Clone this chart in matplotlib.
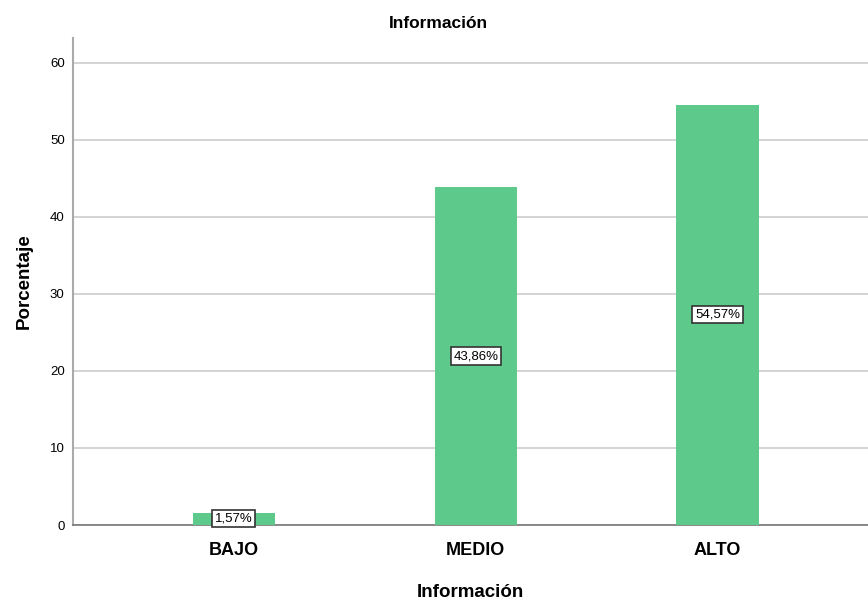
import numpy as np
import matplotlib.pyplot as plt

plt.rcParams['font.family'] = ['Liberation Sans', 'DejaVu Sans']

categorias = ['BAJO', 'MEDIO', 'ALTO']
porcentajes = [1.57, 43.86, 54.57]
etiquetas = ['1,57%', '43,86%', '54,57%']

fig = plt.figure(figsize=(8.68, 6.01), dpi=100)
ax = fig.add_axes([73/868, 1 - 525/601, 1 - 73/868, (525 - 38)/601])

x = np.arange(len(categorias))
ax.bar(x, porcentajes, width=0.34, color='#5dc98b', zorder=3)

# etiquetas en el centro de cada barra
for xi, v, t in zip(x, porcentajes, etiquetas):
    yy = v / 2 if v > 5 else 0.8
    ax.text(xi, yy, t, ha='center', va='center', fontsize=9.5, zorder=4,
            bbox=dict(boxstyle='square,pad=0.2', fc='white', ec='#333333', lw=1.2))

ax.set_xlim(-0.666, 2.623)
ax.set_ylim(0, 63.2)
ax.set_yticks([0, 10, 20, 30, 40, 50, 60])
ax.set_xticks(x)
ax.set_xticklabels(categorias, fontsize=13, fontweight='bold')
ax.tick_params(axis='y', length=0, labelsize=9.5, pad=6)
ax.tick_params(axis='x', length=0, pad=12)
ax.grid(axis='y', color='#cccccc', lw=1.2, zorder=0)

for s in ['top', 'right']:
    ax.spines[s].set_visible(False)
ax.spines['left'].set_color('#aaaaaa')
ax.spines['left'].set_linewidth(1.5)
ax.spines['bottom'].set_color('#777777')
ax.spines['bottom'].set_linewidth(1.2)

ax.set_ylabel('Porcentaje', fontsize=13.5, fontweight='bold', labelpad=12)
ax.set_xlabel('Información', fontsize=13.5, fontweight='bold', labelpad=18)
fig.text(438/868, 1 - 23/601, 'Información', ha='center', va='center',
         fontsize=12.5, fontweight='bold')

fig.savefig('out.png', dpi=100)
